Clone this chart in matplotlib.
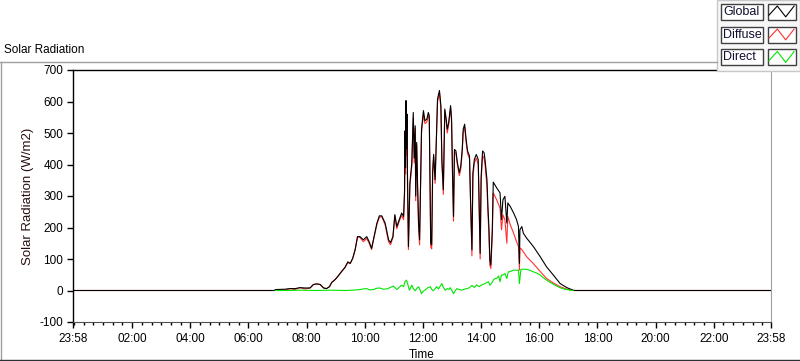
import numpy as np
import matplotlib
matplotlib.use("Agg")
import matplotlib.pyplot as plt
from matplotlib.lines import Line2D
from matplotlib.patches import Rectangle
from matplotlib.ticker import FixedLocator, FuncFormatter

plt.rcParams['font.family'] = ['Liberation Sans', 'DejaVu Sans']
plt.rcParams['axes.unicode_minus'] = False

# time in minutes after midnight (-2 = 23:58 of the day before)
t_global = [-2, 414, 415, 435, 446, 456, 466, 477, 487, 494, 501, 508, 515, 521, 527,
            532, 539, 545, 552, 559, 565, 570, 575, 580, 585, 590, 597, 604, 609, 614,
            619, 625, 630, 635, 642, 649, 653, 658, 662, 666, 671, 676, 680, 682, 683,
            684, 685, 686, 687, 688, 689, 690, 693, 697, 700, 702, 704, 705, 707, 709,
            711, 713, 715, 717, 721, 724, 728, 731, 733, 736, 738, 740, 742, 745, 747,
            750, 754, 757, 759, 762, 765, 768, 770, 773, 777, 779, 781, 783, 785, 788,
            791, 795, 798, 801, 803, 806, 809, 812, 816, 818, 821, 823, 826, 830, 834,
            838, 840, 843, 846, 848, 852, 854, 856, 858, 860, 863, 865, 872, 879, 882,
            885, 889, 893, 895, 900, 907, 913, 917, 919, 920, 924, 927, 934, 948, 962,
            975, 989, 1003, 1017, 1030, 1034, 1438]
global_wm2 = [0, 0, 3, 4, 6, 6, 9, 8, 8, 19, 21, 19, 8, 6, 12,
              26, 35, 46, 60, 73, 91, 86, 102, 129, 171, 171, 161, 171, 155, 134,
              171, 214, 237, 237, 214, 161, 152, 171, 241, 203, 225, 246, 235, 320, 507,
              390, 603, 450, 560, 374, 250, 139, 342, 406, 565, 420, 523, 300, 470, 330,
              214, 161, 342, 512, 571, 539, 544, 565, 555, 150, 145, 380, 432, 352, 448,
              608, 635, 587, 416, 320, 576, 544, 512, 533, 587, 544, 374, 235, 448, 443,
              406, 374, 395, 448, 512, 528, 480, 443, 427, 299, 129, 374, 416, 432, 416,
              118, 363, 443, 438, 416, 352, 267, 203, 97, 81, 193, 344, 326, 310, 225,
              288, 299, 214, 278, 267, 246, 225, 203, 86, 193, 203, 182, 166, 139, 107,
              75, 49, 22, 9, 1, 0, 0]
diffuse_wm2 = [0, 0, 0, 2, 6, 3, 9, 5, 8, 19, 21, 19, 8, 6, 12,
               26, 35, 46, 60, 73, 88, 86, 102, 129, 171, 168, 155, 165, 150, 130,
               168, 210, 232, 235, 208, 155, 145, 168, 236, 196, 220, 238, 225, 300, 490,
               370, 590, 430, 545, 340, 230, 130, 330, 395, 550, 405, 515, 285, 462, 315,
               195, 145, 330, 500, 560, 530, 535, 555, 545, 138, 132, 370, 425, 340, 440,
               598, 628, 575, 405, 305, 570, 535, 500, 525, 580, 535, 360, 220, 440, 435,
               398, 365, 385, 440, 502, 520, 470, 435, 418, 285, 110, 360, 405, 420, 400,
               100, 345, 428, 420, 400, 330, 245, 180, 80, 70, 175, 310, 288, 262, 193,
               240, 225, 150, 235, 209, 182, 155, 140, 65, 135, 130, 123, 107, 85, 60,
               38, 24, 12, 4, 0, 0, 0]

t_direct = [415, 440, 470, 500, 530, 560, 585, 590, 597, 604, 610, 618, 624, 631, 638,
            645, 652, 659, 666, 671, 676, 680, 683, 686, 689, 692, 697, 700, 704, 708,
            711, 714, 717, 720, 724, 729, 735, 738, 741, 745, 748, 752, 756, 759, 762,
            766, 770, 773, 776, 779, 783, 786, 790, 795, 800, 805, 810, 815, 821, 826,
            831, 836, 840, 845, 850, 855, 858, 862, 866, 869, 872, 876, 879, 882, 886,
            889, 893, 896, 900, 907, 912, 917, 919, 922, 928, 934, 941, 948, 955, 962,
            968, 975, 982, 989, 996, 1003, 1010, 1017, 1024, 1030]
direct_wm2 = [0, 0, 1, 0, 1, 0, 2, 3, 5, 6, 2, 3, 7, 8, 4,
              5, 9, 14, 3, 10, 17, 12, 28, 33, 18, 1, 17, 6, -1, 8,
              12, 2, -10, -3, 1, 8, 12, 4, -1, 6, 12, 5, 15, 22, 10,
              1, 6, 3, 9, 2, -10, -2, 6, 3, 1, 4, 6, 8, 16, 10,
              18, 12, 17, 20, 24, 28, 17, 24, 35, 38, 38, 46, 28, 49, 50,
              54, 38, 59, 60, 65, 64, 65, 22, 67, 68, 67, 64, 59, 55, 49,
              41, 33, 26, 20, 14, 9, 5, 3, 1, 0]

y_ticks = [-100, 0, 100, 200, 300, 400, 500, 600, 700]
x_major = [-2, 120, 240, 360, 480, 600, 720, 840, 960, 1080, 1200, 1320, 1438]

W, H = 800, 361


def fx(x):
    return x / W


def fy(y):
    return 1 - y / H


fig = plt.figure(figsize=(W / 100, H / 100), dpi=100)
ax = fig.add_axes([fx(73), fy(322), 698 / W, 252 / H])

ax.plot(t_global, diffuse_wm2, color='#ff3030', lw=0.8)
ax.plot(t_global, global_wm2, color='black', lw=0.8)
ax.plot(t_direct, direct_wm2, color='#00e600', lw=0.8)

ax.set_xlim(-2, 1438)
ax.set_ylim(-100, 700)
ax.set_yticks(y_ticks)
ax.xaxis.set_major_locator(FixedLocator(x_major))
ax.xaxis.set_minor_locator(FixedLocator(np.arange(0, 1440, 20)))
ax.xaxis.set_major_formatter(FuncFormatter(
    lambda v, p: '%02d:%02d' % ((int(round(v)) % 1440) // 60, (int(round(v)) % 1440) % 60)))
ax.tick_params(axis='x', which='major', length=4, width=1, pad=4, labelsize=8.5)
ax.tick_params(axis='x', which='minor', length=2, width=1)
ax.tick_params(axis='y', length=4, width=1, pad=3, labelsize=8.5)

for side in ['left', 'top']:
    ax.spines[side].set_color('black')
    ax.spines[side].set_linewidth(1)
ax.spines['bottom'].set_color('#505050')
ax.spines['right'].set_color('#a0a0a0')

ax.set_xlabel('Time', fontsize=8.5, labelpad=3)
ax.set_ylabel('Solar Radiation (W/m2)', fontsize=9.5, labelpad=4, color='#2a1010')

# outer frame of the graph panel
frame_col = '#a0a0a0'
fig.add_artist(Line2D([fx(0), fx(717)], [fy(62), fy(62)], color=frame_col, lw=1))
fig.add_artist(Line2D([fx(1), fx(1)], [fy(62), fy(360)], color=frame_col, lw=1))
fig.add_artist(Line2D([fx(0), fx(800)], [fy(359.5), fy(359.5)], color='#303030', lw=1))

fig.text(fx(4), fy(50), 'Solar Radiation', fontsize=8.5, va='center', ha='left')

# legend panel
fig.add_artist(Rectangle((fx(717), fy(71)), 83 / W, 71 / H, transform=fig.transFigure,
                         facecolor='#f7f7f7', edgecolor='#c8c8c8', lw=1))
names = ['Global', 'Diffuse', 'Direct']
colors = ['black', '#ff3030', '#00e600']
rows = [(4, 19.5), (27, 42.5), (49.5, 65)]
zig_x = [0.05, 0.35, 0.65, 0.95]
zig_y = [0.28, 0.87, 0.17, 0.87]
for name, col, (top, bot) in zip(names, colors, rows):
    h = (bot - top) / H
    fig.add_artist(Rectangle((fx(721), fy(bot)), 42 / W, h, transform=fig.transFigure,
                             facecolor='white', edgecolor='#404040', lw=1))
    fig.text(fx(723.5), fy((top + bot) / 2), name, fontsize=9, va='center', ha='left',
             color='#101030')
    fig.add_artist(Rectangle((fx(767.5), fy(bot)), 28 / W, h, transform=fig.transFigure,
                             facecolor='white', edgecolor='#404040', lw=1))
    xs = [fx(767.5 + 28 * z) for z in zig_x]
    ys = [fy(bot) + h * z for z in zig_y]
    fig.add_artist(Line2D(xs, ys, color=col, lw=0.8))

fig.savefig('out.png', dpi=100)
